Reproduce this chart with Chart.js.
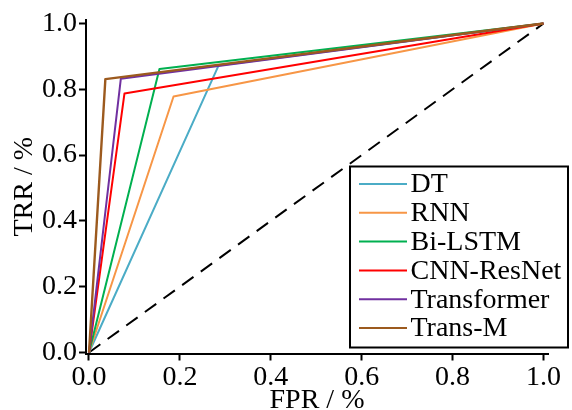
<!DOCTYPE html>
<html>
<head>
<meta charset="utf-8">
<script src="https://cdn.jsdelivr.net/npm/chart.js@4.4.1/dist/chart.umd.min.js"></script>
<style>
html,body{margin:0;padding:0;background:#fff;overflow:hidden;}
#wrap{width:572px;height:410px;}
.pre{font-family:'Liberation Serif';position:absolute;left:-999px;top:0;font-size:28px;}
</style>
</head>
<body>
<span class="pre">0.123456789 FPR TRR %</span>
<div id="wrap"><canvas id="c" width="572" height="410"></canvas></div>
<script>
// ---- data ----
const models = ['DT', 'RNN', 'Bi-LSTM', 'CNN-ResNet', 'Transformer', 'Trans-M'];
const fprDT = [0, 0.285, 1];
const tprDT = [0, 0.872, 1];
const fprRNN = [0, 0.186, 1];
const tprRNN = [0, 0.778, 1];
const fprBiLSTM = [0, 0.155, 1];
const tprBiLSTM = [0, 0.862, 1];
const fprCNN = [0, 0.078, 1];
const tprCNN = [0, 0.787, 1];
const fprTransformer = [0, 0.070, 1];
const tprTransformer = [0, 0.832, 1];
const fprTransM = [0, 0.036, 1];
const tprTransM = [0, 0.831, 1];
const fprChance = [0, 1];
const tprChance = [0, 1];
const xTicks = [0, 0.2, 0.4, 0.6, 0.8, 1.0];
const yTicks = [0, 0.2, 0.4, 0.6, 0.8, 1.0];
const colors = ['#4bacc6', '#f79646', '#00b050', '#ff0000', '#7030a0', '#9c5a1e'];

const seriesFPR = [fprDT, fprRNN, fprBiLSTM, fprCNN, fprTransformer, fprTransM];
const seriesTPR = [tprDT, tprRNN, tprBiLSTM, tprCNN, tprTransformer, tprTransM];
const pts = (xs, ys) => xs.map((x, i) => ({x: x, y: ys[i]}));

const FONT = "'Liberation Serif', serif";
Chart.defaults.font.family = FONT;
Chart.defaults.font.size = 28;
Chart.defaults.color = '#000';

const datasets = [{
  label: 'chance',
  data: pts(fprChance, tprChance),
  borderColor: '#000',
  borderWidth: 2,
  borderDash: [14, 9],
  pointRadius: 0,
  tension: 0,
  order: 20,
  inLegend: false
}];
models.forEach((m, i) => {
  datasets.push({
    label: m,
    data: pts(seriesFPR[i], seriesTPR[i]),
    borderColor: colors[i],
    backgroundColor: colors[i],
    borderWidth: i === 5 ? 2.4 : 2,
    pointRadius: 0,
    tension: 0,
    borderJoinStyle: 'round',
    order: 10 - i,
    inLegend: true
  });
});

const boxLegend = {
  id: 'boxLegend',
  afterDraw(chart) {
    const ctx = chart.ctx;
    ctx.save();
    const x0 = 350, y0 = 166.5, x1 = 568, y1 = 347.5;
    ctx.strokeStyle = '#000';
    ctx.lineWidth = 2;
    ctx.strokeRect(x0, y0, x1 - x0, y1 - y0);
    ctx.font = '28px ' + FONT;
    ctx.textBaseline = 'middle';
    ctx.textAlign = 'left';
    let row = 0;
    chart.data.datasets.forEach(ds => {
      if (!ds.inLegend) return;
      const y = 184 + row * 28.8;
      ctx.strokeStyle = ds.borderColor;
      ctx.lineWidth = 2;
      ctx.beginPath();
      ctx.moveTo(359, y);
      ctx.lineTo(407, y);
      ctx.stroke();
      ctx.fillStyle = '#000';
      ctx.fillText(ds.label, 410.5, y + 1);
      row++;
    });
    ctx.restore();
  }
};

const tickFont = {family: FONT, size: 28, style: 'normal', weight: 'normal'};

function build() {
  new Chart(document.getElementById('c'), {
    type: 'line',
    data: {datasets: datasets},
    options: {
      responsive: false,
      animation: false,
      layout: {padding: {left: 0, top: 20, right: 24, bottom: 0}},
      plugins: {legend: {display: false}, tooltip: {enabled: false}},
      scales: {
        x: {
          type: 'linear',
          min: -0.0066,
          max: 1.0099,
          afterBuildTicks: s => { s.ticks = xTicks.map(v => ({value: v})); },
          afterFit: s => { s.height = 56.5; },
          ticks: {
            color: '#000',
            font: tickFont,
            padding: 0,
            maxRotation: 0,
            autoSkip: false,
            callback: v => Number(v).toFixed(1)
          },
          grid: {display: true, drawOnChartArea: false, drawTicks: true, tickLength: 7, tickWidth: 2, tickColor: '#000'},
          border: {display: true, color: '#000', width: 2},
          title: {display: true, text: 'FPR / %', color: '#000', font: tickFont, padding: {top: 0, bottom: -7}}
        },
        y: {
          type: 'linear',
          min: -0.003,
          max: 1.0106,
          afterBuildTicks: s => { s.ticks = yTicks.map(v => ({value: v})); },
          afterFit: s => { s.width = 86; },
          ticks: {
            color: '#000',
            font: tickFont,
            padding: 2,
            autoSkip: false,
            callback: v => Number(v).toFixed(1)
          },
          grid: {display: true, drawOnChartArea: false, drawTicks: true, tickLength: 7, tickWidth: 2, tickColor: '#000'},
          border: {display: true, color: '#000', width: 2},
          title: {display: true, text: 'TRR / %', color: '#000', font: tickFont, padding: {top: 8, bottom: 0}}
        }
      }
    },
    plugins: [boxLegend]
  });
}

let built = false;
function go() { if (!built) { built = true; build(); } }
if (document.fonts && document.fonts.load) {
  document.fonts.load("28px 'Liberation Serif'").then(go, go);
  setTimeout(go, 1500);
} else {
  go();
}
</script>
</body>
</html>
